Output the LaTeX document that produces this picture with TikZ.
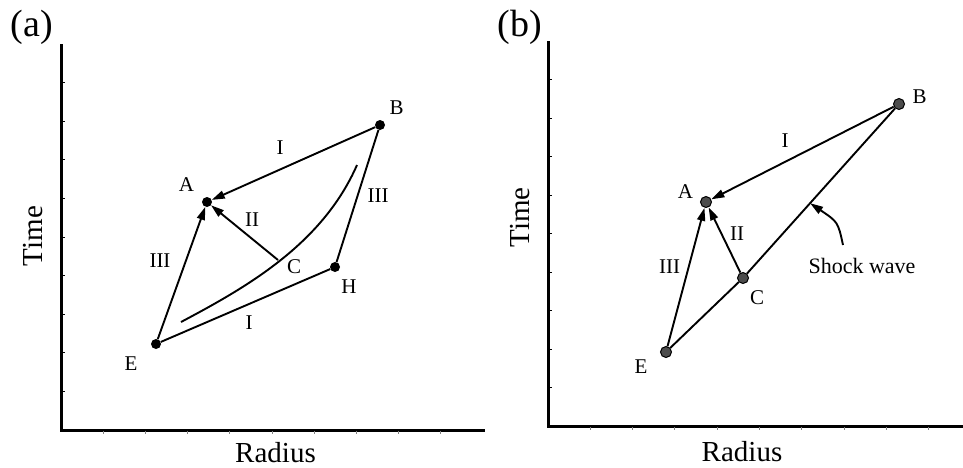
\documentclass[tikz,border=0pt]{standalone}
\usepackage{fontspec}
\setmainfont{Liberation Serif}
\usetikzlibrary{arrows.meta, positioning, calc}

\begin{document}
\begin{tikzpicture}[x=1pt, y=-1pt,
    dot/.style={circle, fill=black, inner sep=0pt, minimum size=10pt},
    dotb/.style={circle, draw=black, line width=1pt, fill=black!70, inner sep=0pt, minimum size=11pt},
    flow/.style={-{Triangle[length=13pt, width=8pt]}, line width=1.9pt},
    wave/.style={line width=1.9pt},
    axis/.style={line width=3pt},
    lbl/.style={font=\fontsize{21}{21}\selectfont, inner sep=0pt},
    big/.style={font=\fontsize{29}{29}\selectfont, inner sep=0pt},
    panel/.style={font=\fontsize{38}{38}\selectfont, inner sep=0pt}
]
\useasboundingbox (0,0) rectangle (963,467);

% (a) axes
\draw[axis] (61,44) |- (485,430);
\foreach \k in {1,...,9} {
  \draw[line width=1pt] (61,430-38.6*\k) -- ++(3.5,0);
  \draw[line width=1pt, black!50] (61+42.2*\k,431) -- ++(0,2.5);
}
\node[panel] (pa) at (32,27.5) {(a)};
\node[big, rotate=90] (ta) at (33,236) {Time};
\node[big] (ra) at (275.5,452.5) {Radius};

% (a) points
\node[dot] (Aa) at (207,202) {};
\node[dot] (Ba) at (380,125) {};
\node[dot] (Ea) at (156,344) {};
\node[dot] (Ha) at (335,267) {};
\coordinate (Ca) at (278,260);
\coordinate (s0) at (181,322);
\coordinate (s1) at (357,165);

\draw[flow] (Ba) -- (Aa);
\draw[flow] (Ea) -- (Aa);
\draw[flow] (Ca) -- (Aa);
\draw[wave] (Ea) -- (Ha) -- (Ba);
\draw[wave] (s0) .. controls (245,288) and (322,245) .. (s1);

\node[lbl] (la) at (186.5,185) {A};
\node[lbl] (lb) at (396.5,108) {B};
\node[lbl] (lc) at (294,267) {C};
\node[lbl] (le) at (131,364) {E};
\node[lbl] (lh) at (349,287) {H};
\node[lbl] (i1) at (280,148) {I};
\node[lbl] (i2) at (249,323) {I};
\node[lbl] (ii1) at (252,219.5) {II};
\node[lbl] (iii1) at (378,196) {III};
\node[lbl] (iii2) at (160,261) {III};

% (b) axes
\draw[axis] (548,41) |- (965,426);
\foreach \k in {1,...,9} {
  \draw[line width=1pt] (548,426-38.5*\k) -- ++(3.5,0);
  \draw[line width=1pt, black!50] (548+42.3*\k,427) -- ++(0,2.5);
}
\node[panel] (pb) at (520,27) {(b)};
\node[big, rotate=90] (tb) at (520,217.5) {Time};
\node[big] (rb) at (742,451.5) {Radius};

% (b) points
\node[dotb] (Ab) at (706,202) {};
\node[dotb] (Bb) at (899,104) {};
\node[dotb] (Cb) at (743,278) {};
\node[dotb] (Eb) at (666,352) {};

\draw[flow] (Bb) -- (Ab);
\draw[flow] (Eb) -- (Ab);
\draw[flow] (Cb) -- (Ab);
\draw[wave] (Eb) -- (Cb) -- (Bb);

\node[lbl] (lab) at (685.5,192) {A};
\node[lbl] (lbb) at (919.5,97) {B};
\node[lbl] (lcb) at (757,297.5) {C};
\node[lbl] (leb) at (641,367) {E};
\node[lbl] (ib) at (785,140.5) {I};
\node[lbl] (iib) at (737,234) {II};
\node[lbl] (iiib) at (669.5,267) {III};
\node[lbl, font=\fontsize{22}{22}\selectfont] (shock) at (862,266) {Shock wave};

\coordinate (sw) at (843,245);
\draw[flow] (sw) .. controls (838,222) .. ($(Cb)!0.43!(Bb)$);
\end{tikzpicture}
\end{document}
